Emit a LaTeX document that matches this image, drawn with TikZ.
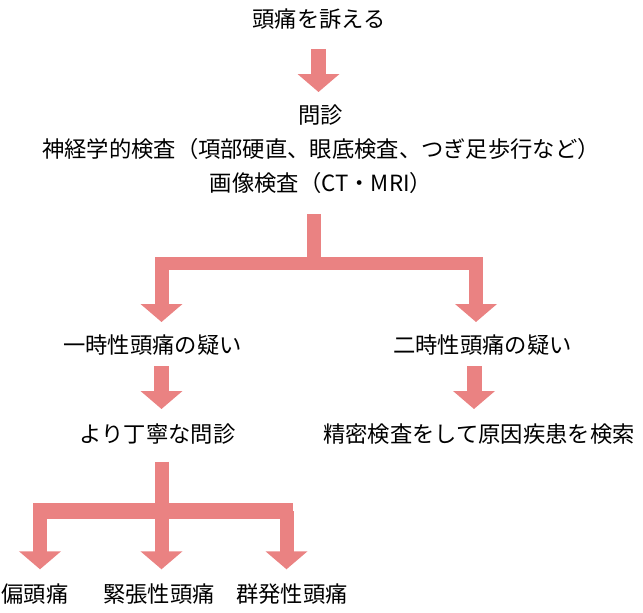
\documentclass[tikz,border=0pt]{standalone}
\usepackage{fontspec}
\setmainfont{Noto Sans CJK JP}
\usetikzlibrary{arrows.meta}
\definecolor{arrowpink}{RGB}{234,130,130}
\begin{document}
\begin{tikzpicture}[x=1pt,y=-1pt,
  lbl/.style={inner sep=0pt,outer sep=0pt,font=\fontsize{22.3}{34}\selectfont,text=black},
  blockarrow/.style={draw=arrowpink,line width=#1,line cap=butt,
    -{Triangle[width=41pt,length=18pt]}},
  blockarrow/.default=15pt,
  shaft/.style={draw=arrowpink,line width=#1,line cap=butt},
  shaft/.default=14pt]
\useasboundingbox (0,0) rectangle (643,613);
% texts
\node[lbl] (top) at (319,19) {頭痛を訴える};
\node[lbl,align=center] (exam) at (321,149.5) {問診\\神経学的検査（項部硬直、眼底検査、つぎ足歩行など）\\画像検査（CT・MRI）};
\node[lbl] (p1) at (152.5,345) {一時性頭痛の疑い};
\node[lbl] (p2) at (482.5,345) {二時性頭痛の疑い};
\node[lbl] (c1) at (157.5,434) {より丁寧な問診};
\node[lbl] (c2) at (479,434) {精密検査をして原因疾患を検索};
\node[lbl] (l1) at (35,594) {偏頭痛};
\node[lbl] (l2) at (159,594) {緊張性頭痛};
\node[lbl] (l3) at (292,594) {群発性頭痛};
% arrow 1
\coordinate (a1s) at (318.5,49);
\coordinate (a1e) at (318.5,92);
\draw[blockarrow] (a1s) -- (a1e);
% split 1
\coordinate (s1s) at (314,214);
\coordinate (s1j) at (314,263.5);
\coordinate (s1l) at (161.5,263.5);
\coordinate (s1r) at (476,263.5);
\coordinate (s1le) at (161.5,322);
\coordinate (s1re) at (476,322);
\draw[shaft] (s1s) -- (s1j);
\fill[arrowpink] (155,256.8) rectangle (483,270.2);
\draw[blockarrow=14pt] (s1l) -- (s1le);
\draw[blockarrow=14pt] (s1r) -- (s1re);
% arrows 2
\coordinate (a2ls) at (161.5,366);
\coordinate (a2le) at (161.5,409);
\coordinate (a2rs) at (474,366);
\coordinate (a2re) at (474,409);
\draw[blockarrow] (a2ls) -- (a2le);
\draw[blockarrow] (a2rs) -- (a2re);
% split 2
\coordinate (s2s) at (161.5,461.7);
\coordinate (s2j) at (161.5,511);
\coordinate (b1) at (40,511);
\coordinate (b2) at (161.5,511);
\coordinate (b3) at (286.5,511);
\coordinate (b1e) at (40,569.3);
\coordinate (b2e) at (161.5,569.3);
\coordinate (b3e) at (286.5,569.3);
\draw[shaft] (s2s) -- (s2j);
\fill[arrowpink] (33.3,502.7) rectangle (293.3,519.3);
\draw[blockarrow=14pt] (b1) -- (b1e);
\draw[blockarrow=14pt] (b2) -- (b2e);
\draw[blockarrow=14pt] (b3) -- (b3e);
\end{tikzpicture}
\end{document}
